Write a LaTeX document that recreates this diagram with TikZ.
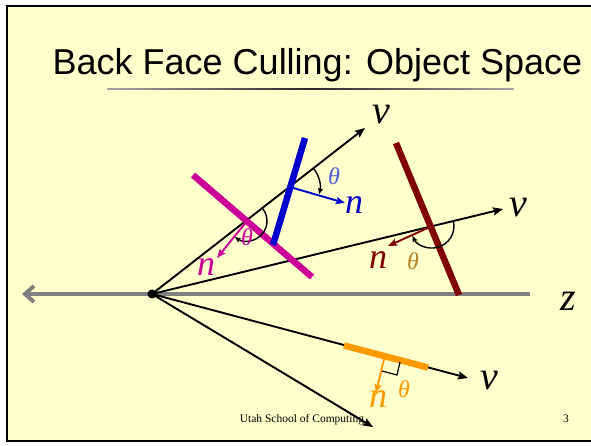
\documentclass[tikz,border=0pt]{standalone}
\usepackage{fontspec}
\setmainfont{Liberation Serif}
\newfontfamily\titlefont{Liberation Sans}
\usetikzlibrary{arrows.meta,calc}
\definecolor{bg}{HTML}{FFFFCC}
\definecolor{mag}{HTML}{CC0099}
\definecolor{blu}{HTML}{0000CC}
\definecolor{dred}{HTML}{800000}
\definecolor{orng}{HTML}{FF9900}
\definecolor{thgold}{HTML}{B38525}
\definecolor{thblue}{HTML}{5060D8}
\definecolor{axisgray}{HTML}{808080}
\begin{document}
\begin{tikzpicture}[x=1pt,y=-1pt,
  ray/.style={line width=1.9pt,-{Stealth[length=10pt,width=8pt,inset=1.5pt]}},
  face/.style={line width=6.5pt},
  normal/.style={line width=1.9pt,-{Stealth[length=9pt,width=7pt,inset=1.5pt]}},
  anglearc/.style={line width=1.4pt,-{Stealth[length=6pt,width=5pt,inset=1pt]}},
  vlbl/.style={font=\fontsize{40}{40}\selectfont\itshape,inner sep=0pt},
  nlbl/.style={font=\fontsize{36}{36}\selectfont\itshape,inner sep=0pt},
  tlbl/.style={font=\fontsize{24}{24}\selectfont\itshape,inner sep=0pt},
  foot/.style={font=\fontsize{11.5}{12}\selectfont,inner sep=0pt,anchor=base}
]
\useasboundingbox (0,0) rectangle (591,445);
\clip (0,0) rectangle (591,445);
% slide frame and background
\fill[white] (0,0) rectangle (591,445);
\fill[bg] (7,6) rectangle (600,441);
\draw[line width=2pt] (600,6) -- (7,6) -- (7,441) -- (600,441);
% title
\node[font=\titlefont\fontsize{36}{36}\selectfont,inner sep=0pt,anchor=base] (title) at (317.5,74) {Back Face Culling: Object Space};
\shade[left color=gray!70,right color=gray!70,middle color=black!85] (107,88.1) rectangle (514,89.9);
% coordinates
\coordinate (eye) at (152,294);
\coordinate (zl) at (22,294);
\coordinate (zr) at (530,294);
\coordinate (v1) at (365,128);
\coordinate (v2) at (503,209);
\coordinate (v3) at (468,378);
\coordinate (v4) at (373,427);
% axis
\draw[axisgray,line width=4pt,-{Straight Barb[length=9pt,width=16pt]}] (zr) -- (zl);
\node[vlbl] (zlab) at (568,301) {z};
% rays
\draw[ray] (eye) -- (v1);
\draw[ray] (eye) -- (v2);
\draw[ray] (eye) -- (v3);
\draw[ray] (eye) -- (v4);
% faces
\draw[face,mag] (193,175) -- (312,277);
\draw[face,blu] (305,138) -- (273,245);
\draw[face,dred] (396,143) -- (459,295);
\draw[face,orng] (344,345.5) -- (428,367.5);
% intersection points
\coordinate (pm) at (247,221);
\coordinate (pb) at (290,187);
\coordinate (pr) at (432,226);
\coordinate (po) at (384,359);
% normals
\coordinate (nm) at (217,258);
\coordinate (nb) at (345,203);
\coordinate (nr) at (388,246);
\coordinate (no) at (376,393);
\draw[normal,mag] (pm) -- (nm);
\draw[normal,blu] (pb) -- (nb);
\draw[normal,dred] (pr) -- (nr);
\draw[normal,orng] (po) -- (no);
% angle arcs
\draw[anglearc] ($(pm)+(37.9:20pt)$) arc[start angle=37.9,end angle=-127,radius=20pt];
\draw[anglearc] ($(pb)+(37.9:30pt)$) arc[start angle=37.9,end angle=-14,radius=30pt];
\draw[anglearc] ($(pr)+(13.6:22pt)$) arc[start angle=13.6,end angle=-153,radius=22pt];
% right angle mark
\draw[line width=1.2pt] (382,371) -- (397,375) -- (400,362);
% labels
\node[vlbl] (l1) at (381,115) {v};
\node[vlbl] (l2) at (518,208) {v};
\node[vlbl] (l3) at (489,381) {v};
\node[nlbl,mag] (lnm) at (206,267) {n};
\node[nlbl,blu] (lnb) at (354,205) {n};
\node[nlbl,dred] (lnr) at (378,260) {n};
\node[nlbl,orng] (lno) at (378,399) {n};
\node[tlbl,thblue] (tb) at (334,176) {θ};
\node[tlbl,mag] (tm) at (247,237) {θ};
\node[tlbl,thgold] (tr) at (413,261) {θ};
\node[tlbl,orng] (to) at (404,389) {θ};
% eye
\fill (eye) circle[radius=4.5pt];
% footer
\node[foot] (caption) at (302,422) {Utah School of Computing};
\node[foot] (pagenum) at (566,422) {3};
\end{tikzpicture}
\end{document}
